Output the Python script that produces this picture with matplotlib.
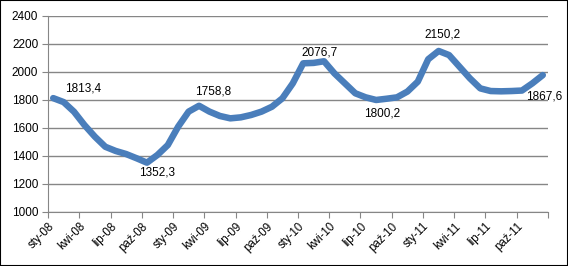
import matplotlib
matplotlib.use("Agg")
import matplotlib.pyplot as plt
import matplotlib.transforms as mtransforms
from matplotlib.patches import Rectangle

# monthly values, sty-08 .. gru-11
values = [1813.4, 1785, 1716, 1621, 1538, 1466, 1436, 1414, 1384, 1352.3, 1407, 1478,
          1610, 1717, 1758.8, 1717, 1686, 1669, 1676, 1693, 1717, 1752, 1812, 1919,
          2062, 2065, 2076.7, 1990, 1919, 1848, 1819, 1800.2, 1809, 1819, 1860, 1931,
          2091, 2150.2, 2121, 2038, 1955, 1883, 1864, 1862, 1864, 1867.6, 1919, 1978]

tick_labels = ["sty-08", "kwi-08", "lip-08", "paź-08",
               "sty-09", "kwi-09", "lip-09", "paź-09",
               "sty-10", "kwi-10", "lip-10", "paź-10",
               "sty-11", "kwi-11", "lip-11", "paź-11"]

# (month index, label offset in pixels)
labelled = [(0, (30, 10)), (9, (10, -10)), (14, (14, 14)), (26, (-4, 9)),
            (31, (6, -14)), (37, (4, 16)), (45, (22, -6))]

def fmt(v):
    return ("%.1f" % v).replace(".", ",")

def plot(fig, ax):
    x = list(range(len(values)))
    ax.plot(x, values, '-', color="#4a7ebb", linewidth=4.7,
            solid_joinstyle="round", solid_capstyle="round", zorder=3)

    for (i, off) in labelled:
        ax.annotate(fmt(values[i]), xy=(i, values[i]), xytext=off,
                    textcoords="offset pixels", ha="center", va="center",
                    fontsize=8.5, color="#000000")

    ax.set_xlim(-0.5, len(values) - 0.5)
    ax.set_ylim(1000, 2400)
    ax.set_yticks(range(1000, 2401, 200))
    ax.yaxis.grid(True, color="#868686", linewidth=1)
    ax.set_axisbelow(True)

    ticks = [-0.5 + 3 * k for k in range(len(tick_labels) + 1)]
    ax.set_xticks(ticks)
    ax.set_xticklabels(tick_labels + [""], rotation=45, ha="right",
                       rotation_mode="anchor", fontsize=8.3)
    shift = mtransforms.ScaledTranslation(6 / 100, -5 / 100, fig.dpi_scale_trans)
    for lab in ax.get_xticklabels():
        lab.set_transform(lab.get_transform() + shift)

    for s in ["top", "right"]:
        ax.spines[s].set_visible(False)
    for s in ["left", "bottom"]:
        ax.spines[s].set_color("#868686")
    ax.tick_params(axis="both", colors="#868686", length=4, labelcolor="black")
    ax.tick_params(axis="y", labelsize=8.5, pad=3)
    ax.tick_params(axis="x", pad=2)

def driver():
    plt.rcParams["font.family"] = ["Liberation Sans", "DejaVu Sans"]
    fig = plt.figure(figsize=(5.68, 2.66), dpi=100)
    ax = fig.add_axes([48 / 568, 54 / 266, 500 / 568, 196 / 266])
    plot(fig, ax)
    fig.patches.append(Rectangle((0, 0), 1, 1, transform=fig.transFigure,
                                 fill=False, edgecolor="black", linewidth=1.5))
    fig.savefig("out.png", dpi=100)

if __name__ == '__main__':
    driver()
